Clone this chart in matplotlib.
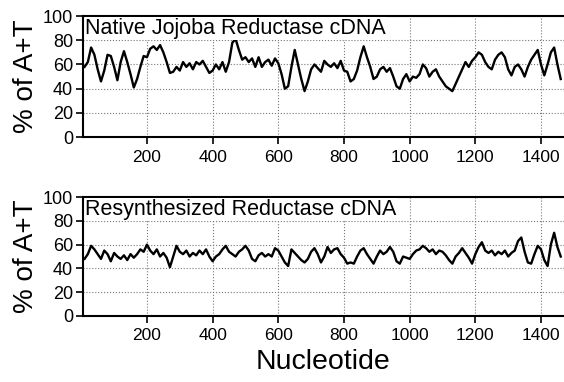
import matplotlib
matplotlib.use("Agg")
import matplotlib.pyplot as plt

plt.rcParams['font.family'] = ['Liberation Sans', 'DejaVu Sans']

# nucleotide position (window centre), every 10 nt
nucleotide = list(range(10, 1470, 10))

native = [
    58, 62, 74, 68, 56, 46, 55, 68, 67, 58,
    47, 62, 71, 62, 52, 41, 48, 58, 67, 66,
    73, 75, 72, 76, 70, 62, 53, 54, 58, 55,
    62, 58, 61, 56, 62, 60, 63, 58, 53, 55,
    60, 56, 62, 54, 62, 78, 81, 72, 64, 66,
    62, 65, 58, 66, 58, 62, 64, 59, 65, 61,
    52, 40, 42, 58, 72, 60, 48, 38, 46, 56,
    60, 57, 54, 63, 60, 58, 61, 57, 63, 55,
    54, 46, 48, 55, 66, 75, 66, 58, 48, 50,
    56, 58, 54, 57, 50, 42, 40, 48, 52, 46,
    50, 49, 52, 60, 57, 50, 54, 56, 50, 46,
    42, 40, 38, 44, 50, 56, 62, 58, 63, 66,
    70, 68, 62, 58, 56, 64, 68, 70, 66, 56,
    51, 58, 60, 56, 50, 58, 64, 68, 72, 60,
    51, 60, 70, 74, 60, 48,
]

resynth = [
    48, 52, 59, 56, 52, 48, 55, 52, 46, 53,
    50, 48, 51, 47, 52, 49, 52, 56, 54, 60,
    55, 52, 56, 50, 53, 49, 41, 50, 59, 54,
    52, 55, 50, 53, 51, 55, 52, 56, 50, 46,
    50, 52, 56, 59, 54, 52, 50, 54, 56, 59,
    55, 48, 46, 51, 53, 50, 52, 50, 57, 55,
    50, 45, 42, 56, 53, 50, 47, 45, 48, 54,
    57, 52, 45, 50, 58, 53, 56, 57, 52, 49,
    44, 45, 44, 50, 55, 57, 52, 48, 44, 50,
    55, 52, 54, 58, 54, 46, 44, 50, 49, 48,
    52, 55, 56, 59, 57, 54, 56, 52, 55, 54,
    51, 47, 44, 50, 53, 57, 53, 49, 44, 52,
    58, 62, 55, 53, 55, 51, 54, 52, 55, 50,
    53, 55, 63, 66, 54, 45, 44, 52, 59, 56,
    47, 42, 60, 70, 58, 50,
]

panels = [
    (native, 'Native Jojoba Reductase cDNA', [0.147, 0.641, 0.853, 0.317]),
    (resynth, 'Resynthesized Reductase cDNA', [0.147, 0.173, 0.853, 0.311]),
]

fig = plt.figure(figsize=(5.64, 3.82), dpi=100)

for values, title, rect in panels:
    ax = fig.add_axes(rect)
    ax.plot(nucleotide, values, color='black', lw=1.7)
    ax.set_xlim(5, 1470)
    ax.set_ylim(0, 100)
    ax.set_yticks([0, 20, 40, 60, 80, 100])
    ax.set_xticks([200, 400, 600, 800, 1000, 1200, 1400])
    ax.grid(True, color='#777777', linestyle=':', lw=0.8)
    ax.set_axisbelow(True)
    ax.spines['right'].set_visible(False)
    for s in ['left', 'bottom', 'top']:
        ax.spines[s].set_linewidth(1.5)
    ax.tick_params(axis='both', direction='out', length=5, width=1.2,
                   labelsize=13, pad=2)
    ax.tick_params(axis='x', labelsize=12.5, pad=4)
    ax.set_ylabel('% of A+T', fontsize=20, labelpad=3)
    ax.text(0.005, 0.985, title, transform=ax.transAxes, fontsize=15.5,
            va='top', ha='left',
            bbox=dict(facecolor='white', edgecolor='none', pad=0.5))

ax.set_xlabel('Nucleotide', fontsize=20.5, labelpad=4)

fig.savefig('out.png', dpi=100)
